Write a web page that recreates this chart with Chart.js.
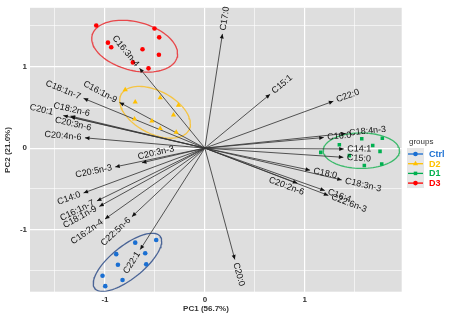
<!DOCTYPE html>
<html>
<head>
<meta charset="utf-8">
<script src="https://cdn.jsdelivr.net/npm/chart.js@4.4.1/dist/chart.umd.min.js"></script>
<style>
  html, body { margin: 0; padding: 0; background: #fff; }
  #biplot { display: block; }
</style>
</head>
<body>
<canvas id="biplot" width="450" height="320"></canvas>
<script>
/* PCA biplot: fatty acid loadings + sample scores by group */

// variable loadings (arrow tips)
const VAR_NAMES = [
  "C17:0", "C15:1", "C22:0", "C18:4n-3", "C16:0", "C14:1", "C15:0",
  "C18:0", "C18:3n-3", "C20:2n-6", "C16:4", "C22:6n-3", "C20:0", "C22:1",
  "C22:5n-6", "C16:2n-4", "C18:1n-9", "C16:1n-7", "C14:0", "C20:5n-3",
  "C20:3n-3", "C20:4n-6", "C20:3n-6", "C18:2n-6", "C20:1", "C18:1n-7",
  "C16:1n-9", "C16:3n-4"
];
const VAR_PC1 = [
  0.176, 0.653, 1.286, 1.41, 1.19, 1.39, 1.386,
  1.053, 1.37, 0.926, 1.20, 1.236, 0.30, -0.647,
  -0.73, -1.0, -1.057, -1.08, -1.214, -0.897,
  -0.63, -1.20, -1.344, -1.344, -1.417, -1.214,
  -0.854, -0.654
];
const VAR_PC2 = [
  1.40, 0.66, 0.575, 0.18, 0.13, -0.01, -0.113,
  -0.27, -0.39, -0.43, -0.52, -0.58, -1.365, -1.244,
  -0.84, -0.87, -0.715, -0.647, -0.55, -0.23,
  -0.18, 0.126, 0.382, 0.393, 0.399, 0.61,
  0.56, 0.98
];

// sample scores
const GROUPS = ["Ctrl", "D2", "D1", "D3"];
const CTRL_PC1 = [-0.697, -0.487, -0.887, -0.597, -0.87, -0.587, -1.024, -0.824, -0.997];
const CTRL_PC2 = [-1.159, -1.127, -1.30, -1.288, -1.43, -1.425, -1.564, -1.616, -1.692];
const D2_PC1 = [-0.797, -0.697, -0.447, -0.264, -0.314, -0.704, -0.53, -0.447, -0.287];
const D2_PC2 = [0.715, 0.566, 0.618, 0.526, 0.405, 0.356, 0.332, 0.242, 0.194];
const D1_PC1 = [1.57, 1.776, 1.346, 1.68, 1.16, 1.753, 1.446, 1.596, 1.77];
const D1_PC2 = [0.114, 0.121, 0.041, 0.033, -0.052, -0.04, -0.092, -0.213, -0.194];
const D3_PC1 = [-1.087, -0.504, -0.457, -0.97, -0.937, -0.624, -0.46, -0.72, -0.564];
const D3_PC2 = [1.503, 1.467, 1.358, 1.293, 1.236, 1.212, 1.144, 1.051, 0.978];

const AXIS_TICKS = [-1, 0, 1];
const X_TITLE = "PC1 (56.7%)";
const Y_TITLE = "PC2 (21.0%)";
const LEGEND_TITLE = "groups";
const ELLIPSE_PROB = 0.8;

const GROUP_X = [CTRL_PC1, D2_PC1, D1_PC1, D3_PC1];
const GROUP_Y = [CTRL_PC2, D2_PC2, D1_PC2, D3_PC2];
const GROUP_COLORS = ["#1a6fd2", "#ffc000", "#00b050", "#ff0000"];
const ELLIPSE_COLORS = ["#4a6496", "#f5c443", "#3dba6c", "#e8474a"];
const GROUP_SHAPES = ["circle", "triangle", "rect", "circle"];
const GROUP_RADII = [2.3, 3.0, 2.5, 2.3];

// hand-placed labels that were moved off their arrows in the original
const LABEL_NUDGE = {
  "C18:2n-6": [1, -6.5, "center"],
  "C20:3n-6": [2.5, 7, "center"],
  "C20:2n-6": [-11, 3, "center"],
  "C20:3n-3": [14, -10, "center"],
  "C20:1": [-10, -3, "right"],
};

const FONT = "'Liberation Sans', Arial, sans-serif";
Chart.defaults.font.family = FONT;

function isInt(v) {
  return Math.abs(v - Math.round(v)) < 1e-6;
}

function ellipsePoints(xs, ys, prob) {
  const n = xs.length;
  const mx = xs.reduce((a, b) => a + b, 0) / n;
  const my = ys.reduce((a, b) => a + b, 0) / n;
  let sxx = 0, syy = 0, sxy = 0;
  for (let i = 0; i < n; i++) {
    sxx += (xs[i] - mx) ** 2;
    syy += (ys[i] - my) ** 2;
    sxy += (xs[i] - mx) * (ys[i] - my);
  }
  sxx /= n - 1; syy /= n - 1; sxy /= n - 1;
  const l11 = Math.sqrt(sxx);
  const l21 = sxy / l11;
  const l22 = Math.sqrt(syy - l21 * l21);
  const ed = Math.sqrt(-2 * Math.log(1 - prob));
  const pts = [];
  for (let k = 0; k <= 90; k++) {
    const t = (k / 90) * Math.PI * 2;
    const c = Math.cos(t), s = Math.sin(t);
    pts.push({ x: mx + ed * l11 * c, y: my + ed * (l21 * c + l22 * s) });
  }
  return pts;
}

const datasets = [];

GROUPS.forEach((g, i) => {
  datasets.push({
    label: g,
    data: GROUP_X[i].map((x, j) => ({ x, y: GROUP_Y[i][j] })),
    pointStyle: GROUP_SHAPES[i],
    pointRadius: GROUP_RADII[i],
    pointBackgroundColor: GROUP_COLORS[i],
    pointBorderWidth: 0,
    showLine: false,
    order: 0,
  });
  datasets.push({
    label: g + " ellipse",
    data: ellipsePoints(GROUP_X[i], GROUP_Y[i], ELLIPSE_PROB),
    showLine: true,
    borderColor: ELLIPSE_COLORS[i],
    borderWidth: 1.3,
    pointRadius: 0,
    tension: 0,
    order: 2,
  });
});

VAR_NAMES.forEach((name, i) => {
  datasets.push({
    label: name,
    data: [{ x: 0, y: 0 }, { x: VAR_PC1[i], y: VAR_PC2[i] }],
    showLine: true,
    borderColor: "#383838",
    borderWidth: 0.85,
    pointRadius: 0,
    order: 1,
  });
});

const panelBg = {
  id: "panelBg",
  beforeDraw(chart) {
    const { ctx, chartArea: a } = chart;
    ctx.save();
    ctx.fillStyle = "#fff";
    ctx.fillRect(0, 0, chart.width, chart.height);
    ctx.fillStyle = "#dedede";
    ctx.fillRect(a.left, a.top, a.right - a.left, a.bottom - a.top);
    ctx.restore();
  },
};

const arrowsAndLabels = {
  id: "arrowsAndLabels",
  afterDatasetsDraw(chart) {
    const { ctx } = chart;
    const sx = chart.scales.x, sy = chart.scales.y;
    const ox = sx.getPixelForValue(0), oy = sy.getPixelForValue(0);
    ctx.save();
    VAR_NAMES.forEach((name, i) => {
      const tx = sx.getPixelForValue(VAR_PC1[i]);
      const ty = sy.getPixelForValue(VAR_PC2[i]);
      const a = Math.atan2(ty - oy, tx - ox);
      // arrow head
      ctx.save();
      ctx.translate(tx, ty);
      ctx.rotate(a);
      ctx.fillStyle = "#111";
      ctx.beginPath();
      ctx.moveTo(0, 0);
      ctx.lineTo(-4.5, -2);
      ctx.lineTo(-4.5, 2);
      ctx.closePath();
      ctx.fill();
      ctx.restore();

      // label
      const right = VAR_PC1[i] >= 0;
      const rot = right ? a : a + Math.PI;
      let px = tx + 3.5 * Math.cos(a);
      let py = ty + 3.5 * Math.sin(a);
      let align = right ? "left" : "right";
      const nudge = LABEL_NUDGE[name];
      if (nudge) {
        px = tx + nudge[0];
        py = ty + nudge[1];
        align = nudge[2];
      }
      ctx.save();
      ctx.translate(px, py);
      ctx.rotate(rot);
      ctx.font = "9px " + FONT;
      ctx.fillStyle = "#111";
      ctx.textAlign = align;
      ctx.textBaseline = "middle";
      ctx.fillText(name, 0, 0);
      ctx.restore();
    });
    ctx.restore();
  },
};

const titlesAndLegend = {
  id: "titlesAndLegend",
  afterDraw(chart) {
    const { ctx } = chart;
    ctx.save();
    ctx.fillStyle = "#333";
    ctx.font = "bold 8px " + FONT;
    ctx.textAlign = "center";
    ctx.textBaseline = "middle";
    ctx.fillText(X_TITLE, 206, 309);
    ctx.save();
    ctx.translate(8, 150);
    ctx.rotate(-Math.PI / 2);
    ctx.fillText(Y_TITLE, 0, 0);
    ctx.restore();

    // legend
    ctx.textAlign = "left";
    ctx.font = "8px " + FONT;
    ctx.fillText(LEGEND_TITLE, 409, 142);
    ctx.fillStyle = "#e6e6e6";
    ctx.fillRect(407, 148, 17, 40);
    GROUPS.forEach((g, i) => {
      const y = 154 + i * 9.7;
      ctx.strokeStyle = GROUP_COLORS[i];
      ctx.lineWidth = 1.3;
      ctx.beginPath();
      ctx.moveTo(408, y);
      ctx.lineTo(423, y);
      ctx.stroke();
      ctx.fillStyle = GROUP_COLORS[i];
      Chart.helpers.drawPoint(ctx, {
        pointStyle: GROUP_SHAPES[i], radius: GROUP_RADII[i], rotation: 0, borderWidth: 0,
      }, 415.5, y);
      ctx.font = "bold 9px " + FONT;
      ctx.fillText(g, 429, y + 0.5);
    });
    ctx.restore();
  },
};

function axisOpts(min, max, isX) {
  return {
    type: "linear",
    min,
    max,
    afterFit(scale) {
      if (isX) scale.height = 28.3;
      else scale.width = 30;
    },
    border: { display: false },
    grid: {
      color: "#ffffff",
      lineWidth: (c) => (c.tick && isInt(c.tick.value) ? 1.2 : 0.6),
      drawTicks: false,
    },
    ticks: {
      stepSize: 0.5,
      includeBounds: false,
      autoSkip: false,
      maxRotation: 0,
      padding: 3,
      color: "#333",
      font: { size: 8, weight: "bold" },
      callback: (v) => (AXIS_TICKS.some((t) => isInt(v) && Math.round(v) === t) ? String(Math.round(v)) : ""),
    },
  };
}

new Chart(document.getElementById("biplot"), {
  type: "scatter",
  data: { datasets },
  options: {
    responsive: false,
    animation: false,
    devicePixelRatio: 1,
    layout: { padding: { top: 5, right: 48.3, left: 0, bottom: 0 } },
    plugins: {
      legend: { display: false },
      tooltip: { enabled: false },
    },
    scales: {
      x: axisOpts(-1.75, 1.97, true),
      y: axisOpts(-1.76, 1.72, false),
    },
  },
  plugins: [panelBg, arrowsAndLabels, titlesAndLegend],
});
</script>
</body>
</html>
